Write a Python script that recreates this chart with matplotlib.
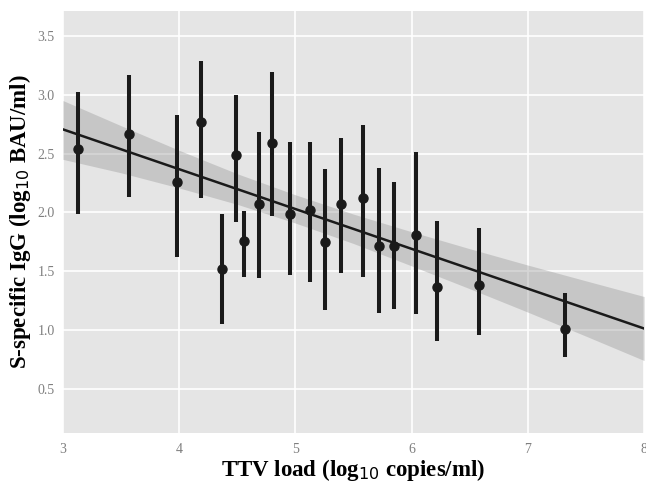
import matplotlib
matplotlib.use("Agg")
import matplotlib.pyplot as plt

# TTV load vs S-specific IgG (group means with error bars)
ttv_load = [3.127, 3.567, 3.983, 4.187, 4.370, 4.485, 4.559, 4.690, 4.800, 4.950,
            5.127, 5.253, 5.390, 5.585, 5.720, 5.850, 6.040, 6.216, 6.577, 7.319]
igg_mean = [2.536, 2.668, 2.255, 2.765, 1.520, 2.485, 1.760, 2.074, 2.592, 1.989,
            2.020, 1.746, 2.069, 2.122, 1.712, 1.712, 1.806, 1.364, 1.384, 1.013]
igg_upper = [3.020, 3.166, 2.827, 3.288, 1.990, 3.000, 2.010, 2.680, 3.190, 2.600,
             2.600, 2.368, 2.629, 2.742, 2.374, 2.255, 2.515, 1.930, 1.865, 1.318]
igg_lower = [1.990, 2.133, 1.624, 2.125, 1.055, 1.916, 1.454, 1.440, 1.970, 1.469,
             1.410, 1.166, 1.483, 1.454, 1.143, 1.177, 1.135, 0.908, 0.959, 0.770]

# linear fit and its confidence band
fit_x = [3, 8]
fit_y = [2.705, 1.013]
band_x = [3, 3.5, 4, 4.5, 5, 5.5, 6, 6.5, 7, 7.5, 8]
band_lo = [2.45, 2.336, 2.207, 2.068, 1.909, 1.735, 1.545, 1.351, 1.152, 0.948, 0.741]
band_hi = [2.95, 2.736, 2.527, 2.328, 2.149, 1.985, 1.835, 1.691, 1.552, 1.418, 1.285]

x_ticks = [3, 4, 5, 6, 7, 8]
y_ticks = [0.5, 1.0, 1.5, 2.0, 2.5, 3.0, 3.5]

fig = plt.figure(figsize=(6.46, 4.83), dpi=100)
ax = fig.add_axes([0.0975, 0.1035, 0.8995, 0.8735])
ax.set_facecolor("#e5e5e5")

ax.fill_between(band_x, band_lo, band_hi, color="#999999", alpha=0.4, lw=0, zorder=2)
ax.plot(fit_x, fit_y, color="#1a1a1a", lw=1.8, zorder=3)

yerr = [[m - lo for m, lo in zip(igg_mean, igg_lower)],
        [hi - m for m, hi in zip(igg_mean, igg_upper)]]
ax.errorbar(ttv_load, igg_mean, yerr=yerr, fmt="o", color="#1a1a1a",
            ms=6.5, elinewidth=2.9, capsize=0, zorder=4)

ax.set_xlim(3, 8)
ax.set_ylim(0.125, 3.71)
ax.set_xticks(x_ticks)
ax.set_yticks(y_ticks)
ax.set_xticklabels([str(t) for t in x_ticks])
ax.set_yticklabels([f"{t:.1f}" for t in y_ticks])
ax.grid(True, color="white", lw=1.2, zorder=0)
ax.set_axisbelow(True)
for s in ax.spines.values():
    s.set_visible(False)
ax.tick_params(length=0, labelsize=10, labelcolor="#7f7f7f")
ax.tick_params(axis="y", pad=6)
ax.tick_params(axis="x", pad=7)
for lab in ax.get_xticklabels() + ax.get_yticklabels():
    lab.set_family("Liberation Serif")

ax.set_xlabel(r"TTV load (log$_{10}$ copies/ml)", family="Liberation Serif",
              fontsize=16.5, fontweight="bold", labelpad=1)
ax.set_ylabel(r"S-specific IgG (log$_{10}$ BAU/ml)", family="Liberation Serif",
              fontsize=16.5, fontweight="bold", labelpad=3)

fig.savefig("out.png", dpi=100)
